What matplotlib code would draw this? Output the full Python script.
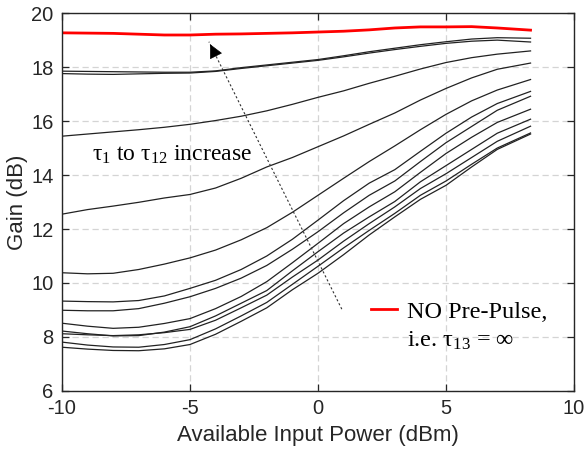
import matplotlib
matplotlib.use('Agg')
import matplotlib.pyplot as plt
from matplotlib.lines import Line2D

# input power sample points (dBm)
power = [-10, -9, -8, -7, -6, -5, -4, -3, -2, -1, 0, 1, 2, 3, 4, 5, 6, 7, 8.3]

# gain without pre-pulse (dB)
gain_no_prepulse = [19.27, 19.26, 19.25, 19.22, 19.19, 19.19, 19.22, 19.23, 19.25, 19.27,
                    19.30, 19.33, 19.38, 19.45, 19.49, 19.49, 19.50, 19.45, 19.37]

# gain for pre-pulse delays tau_1 .. tau_12 (dB)
gain_tau1 = [17.85, 17.84, 17.83, 17.82, 17.81, 17.81, 17.86, 17.98, 18.08, 18.18,
             18.28, 18.42, 18.57, 18.70, 18.83, 18.94, 19.04, 19.09, 19.07]
gain_tau2 = [17.76, 17.74, 17.73, 17.75, 17.77, 17.78, 17.84, 17.95, 18.05, 18.15,
             18.25, 18.38, 18.52, 18.65, 18.77, 18.88, 18.96, 19.00, 18.93]
gain_tau3 = [15.44, 15.52, 15.60, 15.68, 15.77, 15.88, 16.02, 16.18, 16.38, 16.62,
             16.88, 17.12, 17.40, 17.66, 17.93, 18.17, 18.35, 18.48, 18.60]
gain_tau4 = [12.55, 12.72, 12.85, 12.99, 13.15, 13.28, 13.52, 13.88, 14.30, 14.65,
             15.05, 15.45, 15.88, 16.30, 16.78, 17.21, 17.60, 17.92, 18.15]
gain_tau5 = [10.38, 10.34, 10.36, 10.50, 10.70, 10.93, 11.22, 11.60, 12.05, 12.62,
             13.25, 13.88, 14.50, 15.08, 15.68, 16.25, 16.75, 17.15, 17.54]
gain_tau6 = [9.33, 9.31, 9.30, 9.35, 9.52, 9.80, 10.10, 10.50, 11.00, 11.62,
             12.33, 13.05, 13.70, 14.20, 14.88, 15.55, 16.15, 16.65, 17.10]
gain_tau7 = [8.99, 8.97, 8.97, 9.05, 9.25, 9.49, 9.80, 10.18, 10.65, 11.25,
             11.90, 12.60, 13.25, 13.78, 14.50, 15.20, 15.80, 16.40, 16.92]
gain_tau8 = [8.51, 8.40, 8.32, 8.36, 8.50, 8.68, 9.05, 9.50, 10.05, 10.75,
             11.47, 12.20, 12.82, 13.38, 14.10, 14.80, 15.40, 15.95, 16.44]
gain_tau9 = [8.22, 8.12, 8.04, 8.05, 8.18, 8.38, 8.78, 9.25, 9.72, 10.45,
             11.16, 11.85, 12.45, 13.02, 13.75, 14.35, 14.95, 15.55, 16.07]
gain_tau10 = [8.12, 8.08, 8.05, 8.08, 8.16, 8.28, 8.62, 9.08, 9.55, 10.22,
              10.85, 11.55, 12.20, 12.82, 13.50, 14.05, 14.65, 15.25, 15.81]
gain_tau11 = [7.81, 7.70, 7.63, 7.62, 7.72, 7.90, 8.30, 8.78, 9.28, 9.95,
              10.62, 11.30, 11.95, 12.58, 13.25, 13.78, 14.40, 15.00, 15.56]
gain_tau12 = [7.62, 7.55, 7.50, 7.49, 7.56, 7.72, 8.10, 8.58, 9.08, 9.75,
              10.36, 11.05, 11.78, 12.45, 13.10, 13.62, 14.30, 14.95, 15.52]

gain_tau = [gain_tau1, gain_tau2, gain_tau3, gain_tau4, gain_tau5, gain_tau6,
            gain_tau7, gain_tau8, gain_tau9, gain_tau10, gain_tau11, gain_tau12]

# dotted trend arrow (start, tip) in data units
trend_start = (0.93, 9.03)
trend_tip = (-4.26, 18.94)

x_ticks = [-10, -5, 0, 5, 10]
y_ticks = [6, 8, 10, 12, 14, 16, 18, 20]

plt.rcParams['mathtext.default'] = 'regular'
plt.rcParams['axes.unicode_minus'] = False

fig = plt.figure(figsize=(5.84, 4.53), dpi=100)
ax = fig.add_axes([0.106, 0.137, 0.877, 0.834])

for g in gain_tau:
    ax.plot(power, g, color='#222222', lw=0.9)
red, = ax.plot(power, gain_no_prepulse, color='#ff0000', lw=2.0)

# trend line with a solid head
ax.plot([trend_start[0], trend_tip[0]], [trend_start[1], trend_tip[1]],
        color='#333333', lw=0.8, linestyle=(0, (2, 2)))
dx = trend_tip[0] - trend_start[0]
dy = trend_tip[1] - trend_start[1]
ax.annotate('', xy=trend_tip, xytext=(trend_tip[0] - 0.06 * dx, trend_tip[1] - 0.06 * dy),
            arrowprops=dict(arrowstyle='-|>', color='black', mutation_scale=22, lw=0.5))

serif = ['Liberation Serif', 'DejaVu Serif']
ax.text(-8.84, 14.75, 'τ$_1$ to τ$_{12}$ increase', family=serif, fontsize=17,
        va='center', ha='left')

blank = Line2D([], [], color='none')
leg = ax.legend([red, blank], ['NO Pre-Pulse,', 'i.e. τ$_{13}$ = ∞'],
                loc='upper left', bbox_to_anchor=(0.56, 0.297), frameon=False,
                handlelength=1.1, handletextpad=0.4, labelspacing=0.3,
                prop={'family': serif, 'size': 17.5})

ax.set_xlim(-10, 10)
ax.set_ylim(6, 20)
ax.set_xticks(x_ticks)
ax.set_yticks(y_ticks)
ax.grid(True, color='#d4d4d4', linestyle=(0, (5, 3)), lw=0.9)
ax.tick_params(direction='in', top=True, right=True, length=5, width=0.9,
               labelsize=14.5, colors='#262626', pad=6)
for lbl in ax.get_xticklabels() + ax.get_yticklabels():
    lbl.set_family('Liberation Sans')
for sp in ax.spines.values():
    sp.set_color('#262626')
    sp.set_linewidth(1.0)

ax.set_xlabel('Available Input Power (dBm)', family='Liberation Sans', fontsize=16,
              color='#262626', labelpad=5)
ax.set_ylabel('Gain (dB)', family='Liberation Sans', fontsize=16,
              color='#262626', labelpad=2)

fig.savefig('out.png', dpi=100)
